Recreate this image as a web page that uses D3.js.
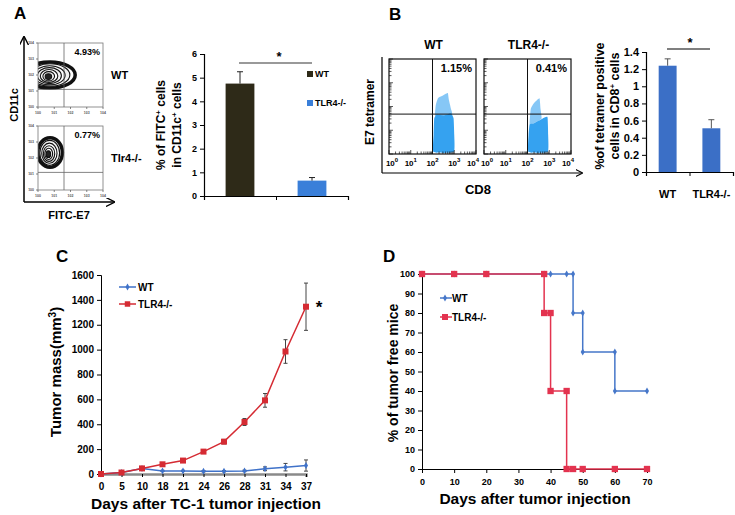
<!DOCTYPE html>
<html>
<head>
<meta charset="utf-8">
<script src="https://cdn.jsdelivr.net/npm/d3@7"></script>
<style>
  body { margin: 0; background: #fff; }
  svg { font-family: "Liberation Sans", Arial, sans-serif; }
  text { font-weight: bold; }
</style>
</head>
<body>
<svg width="735" height="515"></svg>
<script>
// ---- data ----
// A: FITC-E7 uptake bar chart
var aGroups = ["WT", "TLR4-/-"];
var aValues = [4.75, 0.65];
var aErrors = [0.5, 0.13];
var aTicks = [0, 1, 2, 3, 4, 5, 6];
// A: contour levels (log units) for the two flow plots
var contourWT = [[0.74, 2.0, 1.55, 0.82], [0.74, 2.0, 1.22, 0.7], [0.72, 1.98, 0.95, 0.6], [0.7, 1.96, 0.74, 0.5], [0.68, 1.94, 0.54, 0.4], [0.66, 1.92, 0.36, 0.29], [0.64, 1.9, 0.2, 0.18]];
var contourKO = [[0.74, 2.34, 0.76, 0.92], [0.72, 2.32, 0.61, 0.78], [0.7, 2.3, 0.47, 0.63], [0.68, 2.28, 0.35, 0.49], [0.66, 2.26, 0.24, 0.35], [0.64, 2.24, 0.14, 0.21]];
var aPercents = ["4.93%", "0.77%"];

// B: tetramer flow plots (log10 CD8, log10 E7 tetramer)
var bDenseWT = [[2.05, 0.08], [2.98, 0.08], [3.0, 0.8], [2.97, 1.5], [2.85, 1.72], [2.5, 1.62], [2.2, 1.66], [2.08, 1.5], [2.05, 0.8]];
var bSparseWT = [[2.12, 1.6], [2.15, 2.05], [2.25, 2.35], [2.45, 2.45], [2.7, 2.57], [2.75, 2.3], [2.85, 1.9], [2.9, 1.7], [2.5, 1.6]];
var bDenseKO = [[2.05, 0.08], [2.93, 0.08], [2.95, 0.8], [2.92, 1.55], [2.7, 1.5], [2.5, 1.4], [2.3, 1.3], [2.1, 1.25], [2.05, 0.8]];
var bSparseKO = [[2.1, 1.25], [2.15, 1.9], [2.3, 2.15], [2.55, 2.35], [2.6, 1.9], [2.65, 1.5], [2.4, 1.35]];
var bPercents = ["1.15%", "0.41%"];
var bGate = [2, 1.68];
// B: tetramer bar chart
var bGroups = ["WT", "TLR4-/-"];
var bValues = [1.24, 0.51];
var bErrors = [0.08, 0.1];
var bTicks = [0, 0.2, 0.4, 0.6, 0.8, 1, 1.2, 1.4];

// C: tumor growth
var cDays = ["0", "5", "10", "18", "21", "24", "26", "28", "31", "34", "37"];
var cWT = [0, 12, 45, 25, 25, 22, 22, 25, 42, 55, 68];
var cWTerr = [0, 3, 5, 5, 5, 5, 5, 6, 15, 30, 45];
var cKO = [0, 12, 45, 78, 108, 180, 260, 418, 592, 985, 1345];
var cKOerr = [0, 4, 8, 10, 12, 15, 18, 28, 55, 95, 190];
var cTicks = [0, 200, 400, 600, 800, 1000, 1200, 1400, 1600];

// D: tumor free survival
var dWT = [[0, 100], [10, 100], [20, 100], [38, 100], [40, 100], [45, 100], [47, 100], [47, 80], [50, 80], [50, 60], [60, 60], [60, 40], [70, 40]];
var dKO = [[0, 100], [10, 100], [20, 100], [38, 100], [38, 80], [40, 80], [40, 40], [45, 40], [45, 0], [47, 0], [50, 0], [60, 0], [70, 0]];
var dYTicks = [0, 10, 20, 30, 40, 50, 60, 70, 80, 90, 100];
var dXTicks = [0, 10, 20, 30, 40, 50, 60, 70];

var svg = d3.select("svg");
svg.append("rect").attr("width", 735).attr("height", 515).attr("fill", "#fff");

function label(g, x, y, txt, size, anchor, rot) {
    var t = g.append("text").attr("font-size", size).attr("text-anchor", anchor || "start");
    if (rot) t.attr("transform", "translate(" + x + "," + y + ") rotate(-90)");
    else t.attr("x", x).attr("y", y);
    t.text(txt);
    return t;
}

// panel letters
label(svg, 14, 19, "A", 17);
label(svg, 389, 20, "B", 17);
label(svg, 56, 262, "C", 17);
label(svg, 383, 262, "D", 17);

// ---------- Panel A : contour plots ----------
var arrow = svg.append("defs").append("marker").attr("id", "arr")
    .attr("viewBox", "0 0 10 10").attr("refX", 9).attr("refY", 5)
    .attr("markerWidth", 6).attr("markerHeight", 6).attr("orient", "auto-start-reverse");
arrow.append("path").attr("d", "M0,0L10,5L0,10").attr("fill", "none").attr("stroke", "#000").attr("stroke-width", 1.5);

svg.append("line").attr("x1", 24).attr("y1", 202).attr("x2", 24).attr("y2", 37)
    .attr("stroke", "#000").attr("stroke-width", 1.5).attr("marker-end", "url(#arr)");
svg.append("line").attr("x1", 24).attr("y1", 202).attr("x2", 114).attr("y2", 202)
    .attr("stroke", "#000").attr("stroke-width", 1.5).attr("marker-end", "url(#arr)");
label(svg, 18, 105, "CD11c", 11, "middle", true);
label(svg, 69, 219, "FITC-E7", 11, "middle");

function contourPlot(top, levels, pct, name, id) {
    var x = d3.scaleLinear().domain([0, 4]).range([38, 103]);
    var y = d3.scaleLinear().domain([0, 4]).range([top + 64, top]);
    var g = svg.append("g");
    g.append("clipPath").attr("id", id).append("rect")
        .attr("x", 38).attr("y", top).attr("width", 65).attr("height", 64);
    var cg = g.append("g").attr("clip-path", "url(#" + id + ")");
    cg.selectAll("ellipse").data(levels).enter().append("ellipse")
        .attr("cx", function(d) { return x(d[0]); })
        .attr("cy", function(d) { return y(d[1]); })
        .attr("rx", function(d) { return x(d[2]) - x(0); })
        .attr("ry", function(d) { return y(0) - y(d[3]); })
        .attr("fill", function(d, i) { return i == levels.length - 1 ? "#222" : (i % 2 ? "#f2f2f2" : "#fff"); })
        .attr("stroke", "#111")
        .attr("stroke-width", function(d, i) { return i == 0 ? 3.5 : 1.1; });
    g.append("rect").attr("x", 38).attr("y", top).attr("width", 65).attr("height", 64)
        .attr("fill", "none").attr("stroke", "#777").attr("stroke-width", 0.8);
    g.append("line").attr("x1", x(1.6)).attr("x2", x(1.6)).attr("y1", top).attr("y2", top + 64)
        .attr("stroke", "#666").attr("stroke-width", 0.8);
    g.append("line").attr("x1", 38).attr("x2", 103).attr("y1", y(1.1)).attr("y2", y(1.1))
        .attr("stroke", "#666").attr("stroke-width", 0.8);
    // small decade ticks
    var dec = [0, 1, 2, 3, 4];
    g.selectAll(".tx").data(dec).enter().append("line")
        .attr("x1", function(d) { return x(d); }).attr("x2", function(d) { return x(d); })
        .attr("y1", top + 64).attr("y2", top + 66).attr("stroke", "#555").attr("stroke-width", 0.7);
    g.selectAll(".ty").data(dec).enter().append("line")
        .attr("y1", function(d) { return y(d); }).attr("y2", function(d) { return y(d); })
        .attr("x1", 36).attr("x2", 38).attr("stroke", "#555").attr("stroke-width", 0.7);
    g.selectAll(".lx").data(dec).enter().append("text").attr("font-size", 3.5).attr("fill", "#555")
        .attr("text-anchor", "middle").attr("x", function(d) { return x(d); }).attr("y", top + 71)
        .text(function(d) { return "10" + d; });
    g.selectAll(".ly").data(dec).enter().append("text").attr("font-size", 3.5).attr("fill", "#555")
        .attr("text-anchor", "end").attr("x", 34).attr("y", function(d) { return y(d) + 1; })
        .text(function(d) { return "10" + d; });
    label(g, 100, top + 12, pct, 9, "end");
    label(g, 111, top + 36, name, 11, "start");
}
contourPlot(43, contourWT, aPercents[0], "WT", "clipA1");
contourPlot(126, contourKO, aPercents[1], "Tlr4-/-", "clipA2");

// ---------- Panel A : bar chart ----------
(function() {
    var g = svg.append("g");
    var x = d3.scaleBand().domain(aGroups).range([204, 348]).paddingInner(0.6).paddingOuter(0.3);
    var y = d3.scaleLinear().domain([0, 6]).range([196, 54]);
    var colors = ["#2e2a18", "#3a7fd9"];
    g.selectAll(".bar").data(aValues).enter().append("rect")
        .attr("x", function(d, i) { return x(aGroups[i]); })
        .attr("width", x.bandwidth())
        .attr("y", function(d) { return y(d); })
        .attr("height", function(d) { return y(0) - y(d); })
        .attr("fill", function(d, i) { return colors[i]; });
    aValues.forEach(function(v, i) {
        var cx = x(aGroups[i]) + x.bandwidth() / 2;
        g.append("line").attr("x1", cx).attr("x2", cx).attr("y1", y(v)).attr("y2", y(v + aErrors[i])).attr("stroke", "#222");
        g.append("line").attr("x1", cx - 3).attr("x2", cx + 3).attr("y1", y(v + aErrors[i])).attr("y2", y(v + aErrors[i])).attr("stroke", "#222");
    });
    var ya = d3.axisLeft(y).tickValues(aTicks).tickSize(4).tickFormat(d3.format("d"));
    g.append("g").attr("transform", "translate(204,0)").call(ya)
        .call(function(s) { s.selectAll("text").attr("font-size", 9).attr("font-weight", "bold").attr("font-family", "Liberation Sans"); });
    var xl = d3.scaleLinear().domain([0, 2]).range([204, 348]);
    g.append("g").attr("transform", "translate(0,196)")
        .call(d3.axisBottom(xl).tickValues([0, 1, 2]).tickSize(4).tickFormat(""));
    g.selectAll(".domain").attr("stroke-width", 1.2);
    g.append("line").attr("x1", 239).attr("x2", 312).attr("y1", 63).attr("y2", 63).attr("stroke", "#777").attr("stroke-width", 1.5);
    label(g, 279, 61, "*", 13, "middle");
    // legend
    aGroups.forEach(function(n, i) {
        g.append("rect").attr("x", 307).attr("y", 71 + i * 29).attr("width", 6).attr("height", 6).attr("fill", colors[i]);
        label(g, 315, 77 + i * 29, n, 9, "start");
    });
    var t = g.append("text").attr("font-size", 12).attr("text-anchor", "middle")
        .attr("transform", "translate(165,125) rotate(-90)");
    t.append("tspan").text("% of FITC");
    t.append("tspan").attr("dy", -4).attr("font-size", 8).text("+");
    t.append("tspan").attr("dy", 4).text(" cells");
    var t2 = g.append("text").attr("font-size", 12).attr("text-anchor", "middle")
        .attr("transform", "translate(181,125) rotate(-90)");
    t2.append("tspan").text("in CD11c");
    t2.append("tspan").attr("dy", -4).attr("font-size", 8).text("+");
    t2.append("tspan").attr("dy", 4).text(" cells");
})();

// ---------- Panel B : flow plots ----------
svg.append("line").attr("x1", 382).attr("y1", 173).attr("x2", 382).attr("y2", 57)
    .attr("stroke", "#000").attr("stroke-width", 1.2);
svg.append("line").attr("x1", 382).attr("y1", 173).attr("x2", 582).attr("y2", 173)
    .attr("stroke", "#000").attr("stroke-width", 1.2).attr("marker-end", "url(#arr)");
label(svg, 374, 112, "E7 tetramer", 12, "middle", true);
label(svg, 478, 194, "CD8", 13, "middle");

function dotPlot(left, dense, sparse, pct, name) {
    var w = 87, top = 59, h = 95;
    var x = d3.scaleLinear().domain([0, 4]).range([left, left + w]);
    var y = d3.scaleLinear().domain([0, 4]).range([top + h, top]);
    var g = svg.append("g");
    var line = d3.line().x(function(d) { return x(d[0]); }).y(function(d) { return y(d[1]); }).curve(d3.curveCardinalClosed.tension(0.6));
    g.append("path").attr("d", line(sparse)).attr("fill", "#35a2f0").attr("opacity", 0.6);
    g.append("path").attr("d", line(dense)).attr("fill", "#35a2f0");
    g.append("rect").attr("x", left).attr("y", top).attr("width", w).attr("height", h)
        .attr("fill", "none").attr("stroke", "#111").attr("stroke-width", 1.2);
    g.append("line").attr("x1", x(bGate[0])).attr("x2", x(bGate[0])).attr("y1", top).attr("y2", top + h).attr("stroke", "#111");
    g.append("line").attr("x1", left).attr("x2", left + w).attr("y1", y(bGate[1])).attr("y2", y(bGate[1])).attr("stroke", "#111");
    // log minor ticks
    var minor = [];
    for (var dd = 0; dd < 4; dd++) for (var k = 1; k < 10; k++) minor.push(dd + Math.log10(k));
    minor.push(4);
    g.selectAll(".mx").data(minor).enter().append("line")
        .attr("x1", function(d) { return x(d); }).attr("x2", function(d) { return x(d); })
        .attr("y1", top + h).attr("y2", function(d) { return top + h - (d % 1 == 0 ? 4 : 2.5); })
        .attr("stroke", "#111").attr("stroke-width", 0.7);
    g.selectAll(".my").data(minor).enter().append("line")
        .attr("y1", function(d) { return y(d); }).attr("y2", function(d) { return y(d); })
        .attr("x1", left).attr("x2", function(d) { return left + (d % 1 == 0 ? 4 : 2.5); })
        .attr("stroke", "#111").attr("stroke-width", 0.7);
    [0, 1, 2, 3, 4].forEach(function(d) {
        var off = d == 0 ? 3 : (d == 4 ? -3 : 0);
        var t = g.append("text").attr("font-size", 8).attr("font-weight", "normal").attr("text-anchor", "middle")
            .attr("x", x(d) + off).attr("y", top + h + 12);
        t.append("tspan").text("10");
        t.append("tspan").attr("dy", -4).attr("font-size", 6).text(d);
    });
    label(g, left + w - 4, top + 13, pct, 11, "end").attr("font-weight", "normal");
    label(g, x(bGate[0]) + 1, 49, name, 12, "middle");
}
dotPlot(389, bDenseWT, bSparseWT, bPercents[0], "WT");
dotPlot(484, bDenseKO, bSparseKO, bPercents[1], "TLR4-/-");

// ---------- Panel B : bar chart ----------
(function() {
    var g = svg.append("g");
    var x = d3.scaleBand().domain(bGroups).range([646, 733]).paddingInner(0.59).paddingOuter(0.29);
    var y = d3.scaleLinear().domain([0, 1.4]).range([172, 52]);
    g.selectAll(".bar").data(bValues).enter().append("rect")
        .attr("x", function(d, i) { return x(bGroups[i]); })
        .attr("width", x.bandwidth())
        .attr("y", function(d) { return y(d); })
        .attr("height", function(d) { return y(0) - y(d); })
        .attr("fill", "#3b6fc6");
    bValues.forEach(function(v, i) {
        var cx = x(bGroups[i]) + x.bandwidth() / 2;
        g.append("line").attr("x1", cx).attr("x2", cx).attr("y1", y(v)).attr("y2", y(v + bErrors[i])).attr("stroke", "#555");
        g.append("line").attr("x1", cx - 3).attr("x2", cx + 3).attr("y1", y(v + bErrors[i])).attr("y2", y(v + bErrors[i])).attr("stroke", "#555");
    });
    g.append("g").attr("transform", "translate(646,0)")
        .call(d3.axisLeft(y).tickValues(bTicks).tickSize(4).tickFormat(d3.format("")))
        .call(function(s) { s.selectAll("text").attr("font-size", 11).attr("font-weight", "bold").attr("font-family", "Liberation Sans"); });
    var xl = d3.scaleLinear().domain([0, 2]).range([646, 733]);
    g.append("g").attr("transform", "translate(0,172)")
        .call(d3.axisBottom(xl).tickValues([1]).tickSize(4).tickFormat(""));
    g.selectAll(".domain").attr("stroke-width", 1.2);
    bGroups.forEach(function(n, i) {
        label(g, x(n) + x.bandwidth() / 2, 198, n, 11, "middle");
    });
    g.append("line").attr("x1", 667).attr("x2", 710).attr("y1", 49).attr("y2", 49).attr("stroke", "#555").attr("stroke-width", 1.5);
    label(g, 690, 47, "*", 13, "middle");
    label(g, 604, 106, "%of tetramer positive", 12.5, "middle", true);
    var t = g.append("text").attr("font-size", 12.5).attr("text-anchor", "middle")
        .attr("transform", "translate(619,106) rotate(-90)");
    t.append("tspan").text("cells in CD8");
    t.append("tspan").attr("dy", -4).attr("font-size", 8).text("+");
    t.append("tspan").attr("dy", 4).text(" cells");
})();

// ---------- Panel C ----------
(function() {
    var g = svg.append("g");
    var x = d3.scalePoint().domain(cDays).range([101, 306]);
    var y = d3.scaleLinear().domain([0, 1600]).range([474, 275]);
    g.append("g").attr("transform", "translate(101,0)")
        .call(d3.axisLeft(y).tickValues(cTicks).tickSize(4).tickFormat(d3.format("d")))
        .call(function(s) { s.selectAll("text").attr("font-size", 10).attr("font-weight", "bold").attr("font-family", "Liberation Sans"); s.select(".domain").attr("stroke-width", 1); });
    g.append("g").attr("transform", "translate(0,474)")
        .call(d3.axisBottom(x).tickSize(3).tickPadding(6))
        .call(function(s) {
            s.selectAll("text").attr("font-size", 10).attr("font-weight", "bold").attr("font-family", "Liberation Sans");
            s.select(".domain").attr("stroke", "#8a8a8a").attr("stroke-width", 2.5);
        });
    var series = [
        { v: cWT, e: cWTerr, c: "#3f72c9", sq: false },
        { v: cKO, e: cKOerr, c: "#d52b33", sq: true }
    ];
    series.forEach(function(s) {
        var pts = cDays.map(function(d, i) { return [x(d), y(s.v[i]), s.v[i], s.e[i]]; });
        g.selectAll(null).data(pts.filter(function(p) { return p[3] > 0; })).enter().append("path")
            .attr("d", function(p) {
                var t = y(p[2] + p[3]), b = y(Math.max(0, p[2] - p[3]));
                return "M" + p[0] + "," + t + "V" + b + "M" + (p[0] - 2) + "," + t + "h4M" + (p[0] - 2) + "," + b + "h4";
            })
            .attr("stroke", "#444").attr("stroke-width", 1).attr("fill", "none");
        g.append("path").datum(pts).attr("d", d3.line().x(function(p) { return p[0]; }).y(function(p) { return p[1]; }))
            .attr("fill", "none").attr("stroke", s.c).attr("stroke-width", 1.5);
        g.selectAll(null).data(pts).enter().append("path")
            .attr("transform", function(p) { return "translate(" + p[0] + "," + p[1] + ")"; })
            .attr("d", d3.symbol().type(s.sq ? d3.symbolSquare : d3.symbolDiamond).size(s.sq ? 36 : 14))
            .attr("fill", s.c);
    });
    // legend
    [["WT", "#3f72c9", false], ["TLR4-/-", "#d52b33", true]].forEach(function(l, i) {
        var yy = 287 + i * 17;
        g.append("line").attr("x1", 119).attr("x2", 136).attr("y1", yy).attr("y2", yy).attr("stroke", l[1]).attr("stroke-width", 1.5);
        g.append("path").attr("transform", "translate(127.5," + yy + ")")
            .attr("d", d3.symbol().type(l[2] ? d3.symbolSquare : d3.symbolDiamond).size(l[2] ? 30 : 14)).attr("fill", l[1]);
        label(g, 138, yy + 4, l[0], 10, "start");
    });
    label(g, 319, 313, "*", 17, "middle");
    var t = g.append("text").attr("font-size", 15).attr("text-anchor", "middle")
        .attr("transform", "translate(61,372) rotate(-90)");
    t.append("tspan").text("Tumor mass(mm");
    t.append("tspan").attr("dy", -5).attr("font-size", 10).text("3");
    t.append("tspan").attr("dy", 5).text(")");
    label(g, 206, 509, "Days after TC-1 tumor injection", 15.5, "middle");
})();

// ---------- Panel D ----------
(function() {
    var g = svg.append("g");
    var x = d3.scaleLinear().domain([0, 70]).range([422, 647]);
    var y = d3.scaleLinear().domain([0, 100]).range([469, 274]);
    g.append("g").attr("transform", "translate(422,0)")
        .call(d3.axisLeft(y).tickValues(dYTicks).tickSize(4).tickFormat(d3.format("d")))
        .call(function(s) { s.selectAll("text").attr("font-size", 9).attr("font-weight", "bold").attr("font-family", "Liberation Sans"); });
    g.append("g").attr("transform", "translate(0,469)")
        .call(d3.axisBottom(x).tickValues(dXTicks).tickSize(4).tickPadding(6).tickFormat(d3.format("d")))
        .call(function(s) { s.selectAll("text").attr("font-size", 9).attr("font-weight", "bold").attr("font-family", "Liberation Sans"); });
    var series = [
        { v: dWT, c: "#4677c9", sq: false },
        { v: dKO, c: "#e3334f", sq: true }
    ];
    series.forEach(function(s) {
        g.append("path").datum(s.v).attr("d", d3.line().x(function(p) { return x(p[0]); }).y(function(p) { return y(p[1]); }))
            .attr("fill", "none").attr("stroke", s.c).attr("stroke-width", 1.5);
        g.selectAll(null).data(s.v).enter().append("path")
            .attr("transform", function(p) { return "translate(" + x(p[0]) + "," + y(p[1]) + ")"; })
            .attr("d", d3.symbol().type(s.sq ? d3.symbolSquare : d3.symbolDiamond).size(s.sq ? 40 : 14))
            .attr("fill", s.c);
    });
    [["WT", "#4677c9", false], ["TLR4-/-", "#e3334f", true]].forEach(function(l, i) {
        var yy = 298 + i * 19;
        g.append("line").attr("x1", 440).attr("x2", 452).attr("y1", yy).attr("y2", yy).attr("stroke", l[1]).attr("stroke-width", 1.5);
        g.append("path").attr("transform", "translate(445," + yy + ")")
            .attr("d", d3.symbol().type(l[2] ? d3.symbolSquare : d3.symbolDiamond).size(l[2] ? 36 : 14)).attr("fill", l[1]);
        label(g, 452, yy + 4, l[0], 10, "start");
    });
    label(g, 398, 373, "% of tumor free mice", 14, "middle", true);
    label(g, 535, 504, "Days after tumor injection", 15.5, "middle");
})();
</script>
</body>
</html>
